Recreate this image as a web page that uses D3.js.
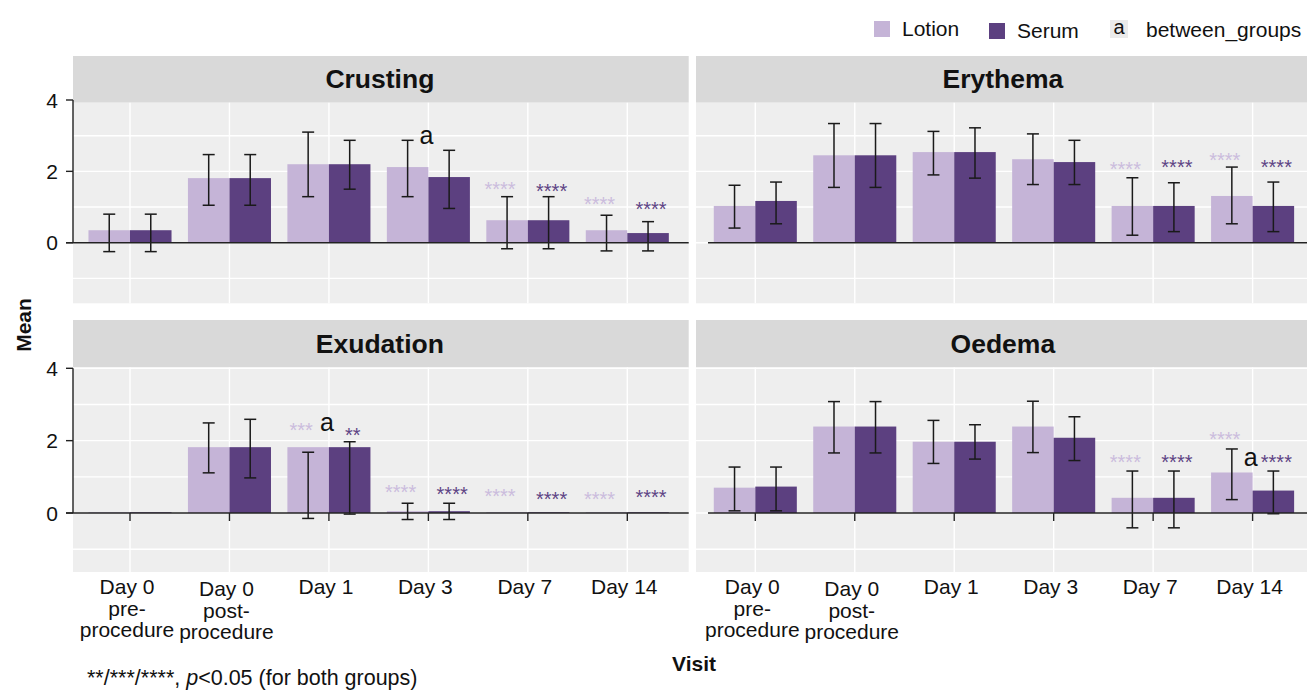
<!DOCTYPE html>
<html>
<head>
<meta charset="utf-8">
<script src="https://cdn.jsdelivr.net/npm/d3@7"></script>
<style>
  body { margin: 0; background: #ffffff; }
  svg { display: block; font-family: "Liberation Sans", Arial, Helvetica, sans-serif; }
</style>
</head>
<body>
<svg id="chart" width="1307" height="692"></svg>
<script>
// ---------- data ----------
const visits = ["Day 0 pre-procedure", "Day 0 post-procedure", "Day 1", "Day 3", "Day 7", "Day 14"];
const visitLabels = [["Day 0", "pre-", "procedure"], ["Day 0", "post-", "procedure"], ["Day 1"], ["Day 3"], ["Day 7"], ["Day 14"]];
const groups = ["Lotion", "Serum"];
const outcomes = ["Crusting", "Erythema", "Exudation", "Oedema"];
const yTicks = [0, 2, 4];

// means and error-bar limits per outcome and group
const crustingLotion   = [0.35, 1.81, 2.20, 2.12, 0.63, 0.35];
const crustingLotionLo = [-0.25, 1.05, 1.29, 1.29, -0.17, -0.23];
const crustingLotionHi = [0.80, 2.47, 3.10, 2.87, 1.29, 0.77];
const crustingSerum    = [0.35, 1.81, 2.20, 1.84, 0.63, 0.27];
const crustingSerumLo  = [-0.25, 1.05, 1.50, 0.96, -0.17, -0.23];
const crustingSerumHi  = [0.80, 2.47, 2.87, 2.59, 1.29, 0.59];

const erythemaLotion   = [1.03, 2.45, 2.54, 2.34, 1.03, 1.31];
const erythemaLotionLo = [0.41, 1.55, 1.90, 1.63, 0.21, 0.53];
const erythemaLotionHi = [1.61, 3.34, 3.12, 3.05, 1.82, 2.12];
const erythemaSerum    = [1.17, 2.45, 2.54, 2.26, 1.03, 1.03];
const erythemaSerumLo  = [0.53, 1.55, 1.81, 1.63, 0.31, 0.31];
const erythemaSerumHi  = [1.70, 3.34, 3.22, 2.87, 1.68, 1.70];

const exudationLotion   = [0.02, 1.82, 1.82, 0.05, 0.02, 0.02];
const exudationLotionLo = [null, 1.11, -0.15, -0.18, null, null];
const exudationLotionHi = [null, 2.49, 1.68, 0.27, null, null];
const exudationSerum    = [0.02, 1.82, 1.82, 0.05, 0.02, 0.02];
const exudationSerumLo  = [null, 0.97, -0.03, -0.18, null, null];
const exudationSerumHi  = [null, 2.59, 1.97, 0.27, null, null];

const oedemaLotion   = [0.70, 2.39, 1.97, 2.39, 0.42, 1.12];
const oedemaLotionLo = [0.06, 1.66, 1.37, 1.67, -0.41, 0.37];
const oedemaLotionHi = [1.27, 3.08, 2.56, 3.09, 1.16, 1.77];
const oedemaSerum    = [0.73, 2.39, 1.97, 2.08, 0.42, 0.62];
const oedemaSerumLo  = [0.06, 1.66, 1.49, 1.45, -0.41, -0.02];
const oedemaSerumHi  = [1.27, 3.08, 2.44, 2.66, 1.16, 1.16];

// within-group significance versus baseline: [outcome, visit, group, label, height]
const withinGroupStars = [
  ["Crusting", "Day 7", "Lotion", "****", 1.61],
  ["Crusting", "Day 7", "Serum", "****", 1.56],
  ["Crusting", "Day 14", "Lotion", "****", 1.21],
  ["Crusting", "Day 14", "Serum", "****", 1.05],
  ["Erythema", "Day 7", "Lotion", "****", 2.19],
  ["Erythema", "Day 7", "Serum", "****", 2.23],
  ["Erythema", "Day 14", "Lotion", "****", 2.42],
  ["Erythema", "Day 14", "Serum", "****", 2.23],
  ["Exudation", "Day 1", "Lotion", "***", 2.41],
  ["Exudation", "Day 1", "Serum", "**", 2.27],
  ["Exudation", "Day 3", "Lotion", "****", 0.70],
  ["Exudation", "Day 3", "Serum", "****", 0.64],
  ["Exudation", "Day 7", "Lotion", "****", 0.59],
  ["Exudation", "Day 7", "Serum", "****", 0.51],
  ["Exudation", "Day 14", "Lotion", "****", 0.51],
  ["Exudation", "Day 14", "Serum", "****", 0.54],
  ["Oedema", "Day 7", "Lotion", "****", 1.51],
  ["Oedema", "Day 7", "Serum", "****", 1.51],
  ["Oedema", "Day 14", "Lotion", "****", 2.17],
  ["Oedema", "Day 14", "Serum", "****", 1.51]
];

// between-group differences: [outcome, visit, height]
const betweenGroups = [
  ["Crusting", "Day 3", 2.95],
  ["Exudation", "Day 1", 2.46],
  ["Oedema", "Day 14", 1.49]
];

const seriesTable = {
  Crusting:  { Lotion: [crustingLotion, crustingLotionLo, crustingLotionHi],  Serum: [crustingSerum, crustingSerumLo, crustingSerumHi] },
  Erythema:  { Lotion: [erythemaLotion, erythemaLotionLo, erythemaLotionHi],  Serum: [erythemaSerum, erythemaSerumLo, erythemaSerumHi] },
  Exudation: { Lotion: [exudationLotion, exudationLotionLo, exudationLotionHi], Serum: [exudationSerum, exudationSerumLo, exudationSerumHi] },
  Oedema:    { Lotion: [oedemaLotion, oedemaLotionLo, oedemaLotionHi],    Serum: [oedemaSerum, oedemaSerumLo, oedemaSerumHi] }
};

// ---------- layout ----------
const colors = { Lotion: "#C5B4D7", Serum: "#5C4080" };
const starColors = { Lotion: "#CBBCDD", Serum: "#5E4485" };
const starNudge = { Lotion: -7, Serum: 3 };

const cols = [
  { x0: 73, x1: 688.7, first: 130, last: 627.3, yAxis: true, zeroStart: 66 },
  { x0: 696, x1: 1311.7, first: 755.3, last: 1252.6, yAxis: false, zeroStart: 708 }
];
const rows = [
  { stripTop: 56, top: 102.7, bottom: 303.3, y0: 242.7, y4: 100, xTicks: false },
  { stripTop: 320, top: 367.5, bottom: 572, y0: 513, y4: 368.3, xTicks: true }
];

const svg = d3.select("#chart");

outcomes.forEach((outcome, i) => {
  const col = cols[i % 2];
  const row = rows[Math.floor(i / 2)];

  const x = d3.scalePoint().domain(visits).range([col.first, col.last]);
  const dodgeWidth = x.step() * 0.835;
  const xDodge = d3.scaleBand().domain(groups).range([-dodgeWidth / 2, dodgeWidth / 2]).padding(0);
  const y = d3.scaleLinear().domain([0, 4]).range([row.y0, row.y4]);

  const g = svg.append("g").attr("class", "panel");

  // strip
  g.append("rect")
    .attr("x", col.x0).attr("y", row.stripTop)
    .attr("width", col.x1 - col.x0).attr("height", row.top - row.stripTop)
    .attr("fill", "#D9D9D9");
  g.append("text")
    .attr("x", (col.x0 + col.x1) / 2 - 1)
    .attr("y", (row.stripTop + row.top) / 2 + 9)
    .attr("text-anchor", "middle")
    .attr("font-size", 26.5).attr("font-weight", "bold").attr("fill", "#111")
    .text(outcome);

  // panel background
  g.append("rect")
    .attr("x", col.x0).attr("y", row.top)
    .attr("width", col.x1 - col.x0).attr("height", row.bottom - row.top)
    .attr("fill", "#EEEEEE");

  // grid
  const yMin = y.invert(row.bottom), yMax = y.invert(row.top);
  const gridVals = d3.range(Math.ceil(yMin), Math.floor(yMax) + 1);
  g.append("g").selectAll("line").data(gridVals).join("line")
    .attr("x1", col.x0).attr("x2", col.x1)
    .attr("y1", d => y(d)).attr("y2", d => y(d))
    .attr("stroke", "#ffffff").attr("stroke-width", 1.4);
  g.append("g").selectAll("line").data(visits).join("line")
    .attr("x1", d => x(d)).attr("x2", d => x(d))
    .attr("y1", row.top).attr("y2", row.bottom)
    .attr("stroke", "#ffffff").attr("stroke-width", 1.4);

  // bars
  const barData = [];
  groups.forEach(grp => {
    const [m, lo, hi] = seriesTable[outcome][grp];
    visits.forEach((v, k) => barData.push({ visit: v, group: grp, mean: m[k], lo: lo[k], hi: hi[k] }));
  });

  g.append("g").selectAll("rect").data(barData).join("rect")
    .attr("x", d => x(d.visit) + xDodge(d.group))
    .attr("width", xDodge.bandwidth())
    .attr("y", d => Math.min(y(d.mean), y(0)))
    .attr("height", d => Math.abs(y(0) - y(d.mean)))
    .attr("fill", d => colors[d.group]);

  // error bars
  const errData = barData.filter(d => d.lo !== null && d.hi !== null);
  const cx = d => x(d.visit) + xDodge(d.group) + xDodge.bandwidth() / 2;
  const capHalf = 6;
  const eb = g.append("g").attr("stroke", "#1A1A1A").attr("stroke-width", 1.5);
  eb.selectAll("line.stem").data(errData).join("line").attr("class", "stem")
    .attr("x1", cx).attr("x2", cx)
    .attr("y1", d => y(d.lo)).attr("y2", d => y(d.hi));
  eb.selectAll("line.capHi").data(errData).join("line").attr("class", "capHi")
    .attr("x1", d => cx(d) - capHalf).attr("x2", d => cx(d) + capHalf)
    .attr("y1", d => y(d.hi)).attr("y2", d => y(d.hi));
  eb.selectAll("line.capLo").data(errData).join("line").attr("class", "capLo")
    .attr("x1", d => cx(d) - capHalf).attr("x2", d => cx(d) + capHalf)
    .attr("y1", d => y(d.lo)).attr("y2", d => y(d.lo));

  // zero line
  g.append("line")
    .attr("x1", col.zeroStart).attr("x2", col.x1)
    .attr("y1", y(0)).attr("y2", y(0))
    .attr("stroke", "#222").attr("stroke-width", 1.4);

  // y axis
  if (col.yAxis) {
    g.append("line")
      .attr("x1", col.x0).attr("x2", col.x0)
      .attr("y1", y(0)).attr("y2", y(4))
      .attr("stroke", "#222").attr("stroke-width", 1.4);
    const ty = g.append("g");
    ty.selectAll("line").data(yTicks).join("line")
      .attr("x1", col.x0 - 7).attr("x2", col.x0)
      .attr("y1", d => y(d)).attr("y2", d => y(d))
      .attr("stroke", "#222").attr("stroke-width", 1.4);
    ty.selectAll("text").data(yTicks).join("text")
      .attr("x", col.x0 - 15).attr("y", d => y(d) + 7.5)
      .attr("text-anchor", "end").attr("font-size", 21).attr("fill", "#111")
      .text(d => d);
  }

  // x axis ticks and labels
  if (row.xTicks) {
    g.append("g").selectAll("line").data(visits).join("line")
      .attr("x1", d => x(d)).attr("x2", d => x(d))
      .attr("y1", y(0)).attr("y2", y(0) + 8)
      .attr("stroke", "#222").attr("stroke-width", 1.4);
    visits.forEach((v, k) => {
      const t = g.append("text")
        .attr("text-anchor", "middle").attr("font-size", 21).attr("fill", "#111");
      visitLabels[k].forEach((line, j) => {
        t.append("tspan")
          .attr("x", x(v) - 3)
          .attr("y", row.bottom + 22 + (k === 1 ? 2 : 0) + j * 21.5)
          .text(line);
      });
    });
  }

  // significance stars
  g.append("g").selectAll("text")
    .data(withinGroupStars.filter(s => s[0] === outcome)).join("text")
    .attr("x", d => x(d[1]) + xDodge(d[2]) + xDodge.bandwidth() / 2 + starNudge[d[2]])
    .attr("y", d => y(d[4]) + 11)
    .attr("text-anchor", "middle").attr("font-size", 20)
    .attr("fill", d => starColors[d[2]])
    .text(d => d[3]);

  // between-group markers
  g.append("g").selectAll("text")
    .data(betweenGroups.filter(s => s[0] === outcome)).join("text")
    .attr("x", d => x(d[1]) - 2)
    .attr("y", d => y(d[2]) + 7)
    .attr("text-anchor", "middle").attr("font-size", 25).attr("fill", "#111")
    .text("a");
});

// axis titles
svg.append("text")
  .attr("transform", "translate(31,325) rotate(-90)")
  .attr("text-anchor", "middle").attr("font-size", 21).attr("font-weight", "bold").attr("fill", "#111")
  .text("Mean");
svg.append("text")
  .attr("x", 694).attr("y", 671)
  .attr("text-anchor", "middle").attr("font-size", 21).attr("font-weight", "bold").attr("fill", "#111")
  .text("Visit");

// footnote
const foot = svg.append("text")
  .attr("x", 87).attr("y", 685).attr("font-size", 21.5).attr("fill", "#111");
foot.append("tspan").text("**/***/****, ");
foot.append("tspan").attr("font-style", "italic").text("p");
foot.append("tspan").text("<0.05 (for both groups)");

// legend
const legend = svg.append("g").attr("font-size", 21).attr("fill", "#111");
const legendItems = [
  { key: "Lotion", x: 874, dy: 0 },
  { key: "Serum", x: 989, dy: 2 }
];
legendItems.forEach(it => {
  legend.append("rect")
    .attr("x", it.x).attr("y", 21 + it.dy).attr("width", 16).attr("height", 16)
    .attr("fill", colors[it.key]);
  legend.append("text")
    .attr("x", it.x + 28).attr("y", 36 + it.dy)
    .text(it.key);
});
legend.append("rect")
  .attr("x", 1110).attr("y", 20).attr("width", 18).attr("height", 18)
  .attr("fill", "#EBEBEB");
legend.append("text")
  .attr("x", 1119).attr("y", 34).attr("text-anchor", "middle").attr("font-size", 20)
  .text("a");
legend.append("text")
  .attr("x", 1146).attr("y", 37)
  .text("between_groups");
</script>
</body>
</html>
